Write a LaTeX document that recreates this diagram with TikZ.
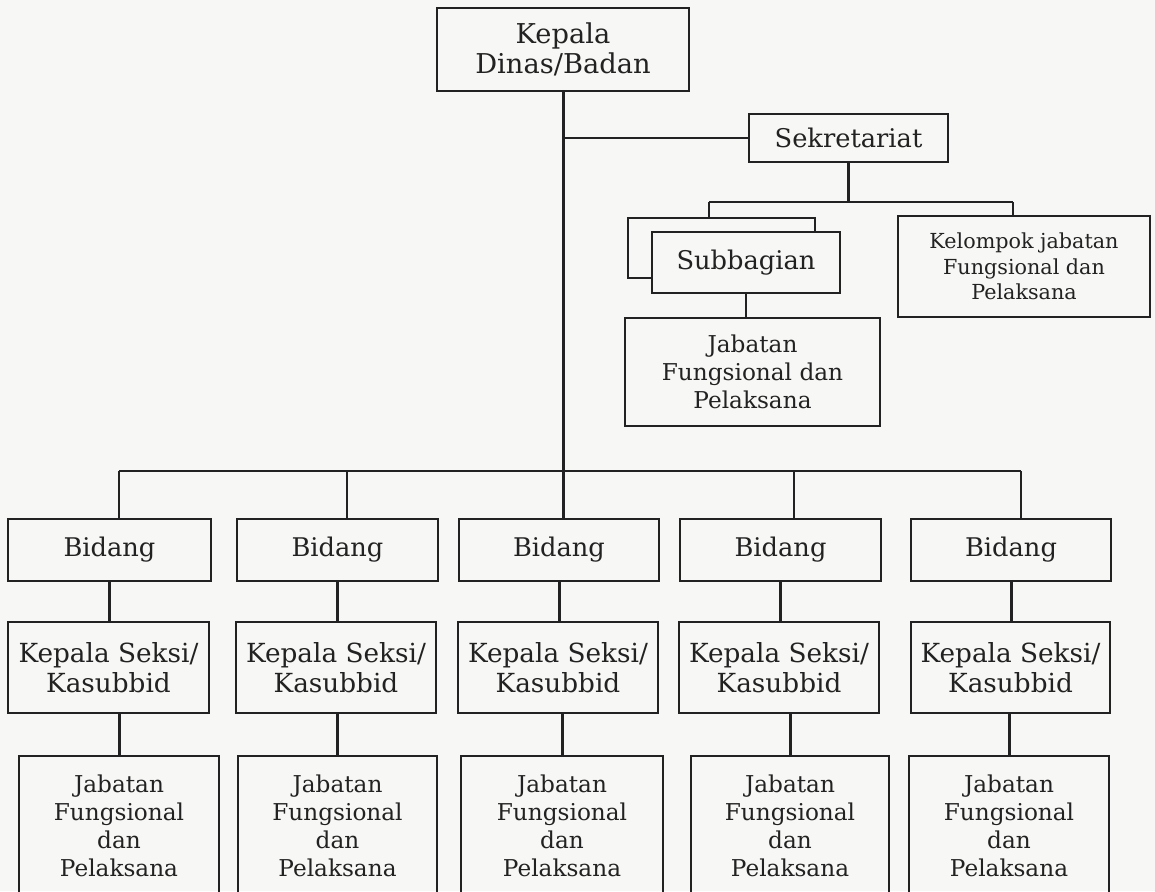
\documentclass[tikz,border=0pt]{standalone}
\usepackage{fontspec}
\setmainfont{DejaVu Serif}
\usetikzlibrary{calc}
\definecolor{ink}{HTML}{222222}
\definecolor{paper}{HTML}{F7F7F5}
\begin{document}
\begin{tikzpicture}[x=1pt,y=-1pt,
  box/.style={draw=ink, line width=2pt, inner sep=0pt, align=center, text=ink},
  conn/.style={draw=ink, line width=2pt},
  heavy/.style={draw=ink, line width=3pt},
  ftop/.style={font=\fontsize{27.3}{30}\selectfont},
  fmid/.style={font=\fontsize{25.7}{30}\selectfont},
  fks/.style={font=\fontsize{26.3}{30}\selectfont},
  fjab/.style={font=\fontsize{23.2}{28}\selectfont},
  fkel/.style={font=\fontsize{20.7}{25.5}\selectfont}]
\useasboundingbox (0,0) rectangle (1155,891);
\fill[paper] (0,0) rectangle (1155,891);
\clip (0,0) rectangle (1155,891);

% top level
\node[box, ftop, minimum width=252, minimum height=83] (kd) at (563,49.5) {Kepala\\Dinas/Badan};
\node[box, fmid, minimum width=199, minimum height=48] (sek) at (848.5,138) {Sekretariat};
\node[box, fill=paper, minimum width=187, minimum height=60] (subback) at (721.5,248) {};
\node[box, fill=paper, fmid, minimum width=188, minimum height=61] (sub) at (746,262.5) {Subbagian};
\node[box, fjab, minimum width=255, minimum height=108] (jabs) at (752.5,372) {Jabatan\\Fungsional dan\\Pelaksana};
\node[box, fkel, minimum width=252, minimum height=101] (kel) at (1024,266.5) {Kelompok jabatan\\Fungsional dan\\Pelaksana};

% Bidang row
\node[box, fmid, minimum width=203, minimum height=62] (b1) at (109.5,550) {Bidang};
\node[box, fmid, minimum width=201, minimum height=62] (b2) at (337.5,550) {Bidang};
\node[box, fmid, minimum width=200, minimum height=62] (b3) at (559,550) {Bidang};
\node[box, fmid, minimum width=201, minimum height=62] (b4) at (780.5,550) {Bidang};
\node[box, fmid, minimum width=200, minimum height=62] (b5) at (1011,550) {Bidang};

% Kepala Seksi row
\node[box, fks, minimum width=201, minimum height=91] (k1) at (108.5,667.5) {Kepala Seksi/\\Kasubbid};
\node[box, fks, minimum width=200, minimum height=91] (k2) at (336,667.5) {Kepala Seksi/\\Kasubbid};
\node[box, fks, minimum width=200, minimum height=91] (k3) at (558,667.5) {Kepala Seksi/\\Kasubbid};
\node[box, fks, minimum width=200, minimum height=91] (k4) at (779,667.5) {Kepala Seksi/\\Kasubbid};
\node[box, fks, minimum width=199, minimum height=91] (k5) at (1010.5,667.5) {Kepala Seksi/\\Kasubbid};

% Jabatan row
\node[box, fjab, minimum width=200, minimum height=140] (j1) at (119,826) {Jabatan\\Fungsional\\dan\\Pelaksana};
\node[box, fjab, minimum width=199, minimum height=140] (j2) at (337.5,826) {Jabatan\\Fungsional\\dan\\Pelaksana};
\node[box, fjab, minimum width=202, minimum height=140] (j3) at (562,826) {Jabatan\\Fungsional\\dan\\Pelaksana};
\node[box, fjab, minimum width=198, minimum height=140] (j4) at (790,826) {Jabatan\\Fungsional\\dan\\Pelaksana};
\node[box, fjab, minimum width=200, minimum height=140] (j5) at (1009,826) {Jabatan\\Fungsional\\dan\\Pelaksana};

% junction coordinates
\coordinate (barL) at (119,471);
\coordinate (d2) at (347,471);
\coordinate (d4) at (794,471);
\coordinate (barR) at (1021,471);
\coordinate (sL) at (709,202);
\coordinate (sR) at (1013,202);

% trunk and branches
\draw[heavy] (kd.south) -- (kd.south |- b3.north);
\draw[conn] (sek.west) -- (sek.west -| kd.south);
\draw[conn] (barL) -- (barR);
\draw[conn] (barL) -- (barL |- b1.north);
\draw[conn] (d2) -- (d2 |- b2.north);
\draw[conn] (d4) -- (d4 |- b4.north);
\draw[conn] (barR) -- (barR |- b5.north);

% secretariat branch
\draw[heavy] (sek.south) -- (sek.south |- sL);
\draw[conn] (sL) -- (sR);
\draw[conn] (sL) -- (sL |- subback.north);
\draw[conn] (sR) -- (sR |- kel.north);
\draw[conn] (sub.south) -- (sub.south |- jabs.north);

% Bidang to Kepala Seksi to Jabatan
\foreach \i in {1,...,5} {
  \draw[heavy] (b\i.south) -- (b\i.south |- k\i.north);
  \draw[heavy] (j\i.north |- k\i.south) -- (j\i.north);
}
\end{tikzpicture}
\end{document}
